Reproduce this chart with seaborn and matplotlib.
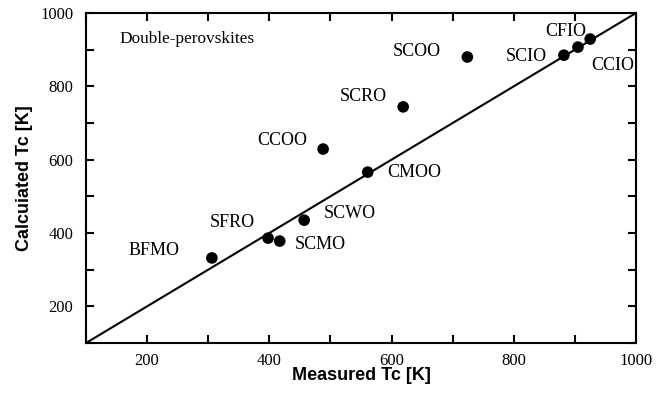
import numpy as np
import pandas as pd
import seaborn as sns
import matplotlib.pyplot as plt
from matplotlib.ticker import MultipleLocator

# data
compounds = ["BFMO", "SFRO", "SCMO", "SCWO", "CMOO", "CCOO",
             "SCRO", "SCOO", "SCIO", "CFIO", "CCIO"]
measured = [306, 398, 417, 457, 561, 488, 619, 724, 882, 905, 925]
calculated = [332, 386, 378, 435, 566, 629, 744, 880, 885, 907, 929]
ideal = [100, 1000]

# label offsets (pixels) from each point
label_dx = [-58, -36, 41, 46, 47, -41, -40, -51, -38, -12, 23]
label_dy = [7, 16, -3, 7, 0, 9, 10, 6, -1, 16, -26]

df = pd.DataFrame({"compound": compounds, "measured": measured, "calculated": calculated})

sns.set_style("ticks", {"text.color": "black", "axes.labelcolor": "black",
                        "xtick.color": "black", "ytick.color": "black",
                        "axes.edgecolor": "black"})
serif = ["Liberation Serif", "DejaVu Serif"]
sans = ["Liberation Sans", "DejaVu Sans"]

fig = plt.figure(figsize=(6.65, 3.94), dpi=100)
ax = fig.add_axes([0.1293, 0.1294, 0.8271, 0.8376])

sns.lineplot(x=ideal, y=ideal, ax=ax, color="black", linewidth=1.5)
sns.scatterplot(data=df, x="measured", y="calculated", ax=ax, color="black",
                s=70, edgecolor="none", zorder=3)

for name, mx, cy, dx, dy in zip(compounds, measured, calculated, label_dx, label_dy):
    ax.annotate(name, (mx, cy), xytext=(dx, dy), textcoords="offset pixels",
                ha="center", va="center", fontsize=13, family=serif, color="black")

ax.text(0.06, 0.922, "Double-perovskites", transform=ax.transAxes,
        fontsize=12.4, family=serif, ha="left", va="center", color="black")

ax.set_xlim(100, 1000)
ax.set_ylim(100, 1000)
ax.xaxis.set_major_locator(MultipleLocator(200))
ax.yaxis.set_major_locator(MultipleLocator(200))
ax.xaxis.set_minor_locator(MultipleLocator(100))
ax.yaxis.set_minor_locator(MultipleLocator(100))
ax.tick_params(which="both", direction="in", top=True, right=True,
               length=6, width=1.5, labelsize=12, colors="black")
ax.tick_params(axis="x", pad=7)
ax.tick_params(axis="y", pad=9)
for lab in ax.get_xticklabels() + ax.get_yticklabels():
    lab.set_family(serif)
for sp in ax.spines.values():
    sp.set_linewidth(1.5)
    sp.set_color("black")

ax.set_xlabel("Measured Tc [K]", fontsize=13, fontweight="bold", family=sans,
              labelpad=-1, color="black")
ax.set_ylabel("Calcuiated Tc [K]", fontsize=13, fontweight="bold", family=sans,
              labelpad=5, color="black")

fig.savefig("out.png", dpi=100)
